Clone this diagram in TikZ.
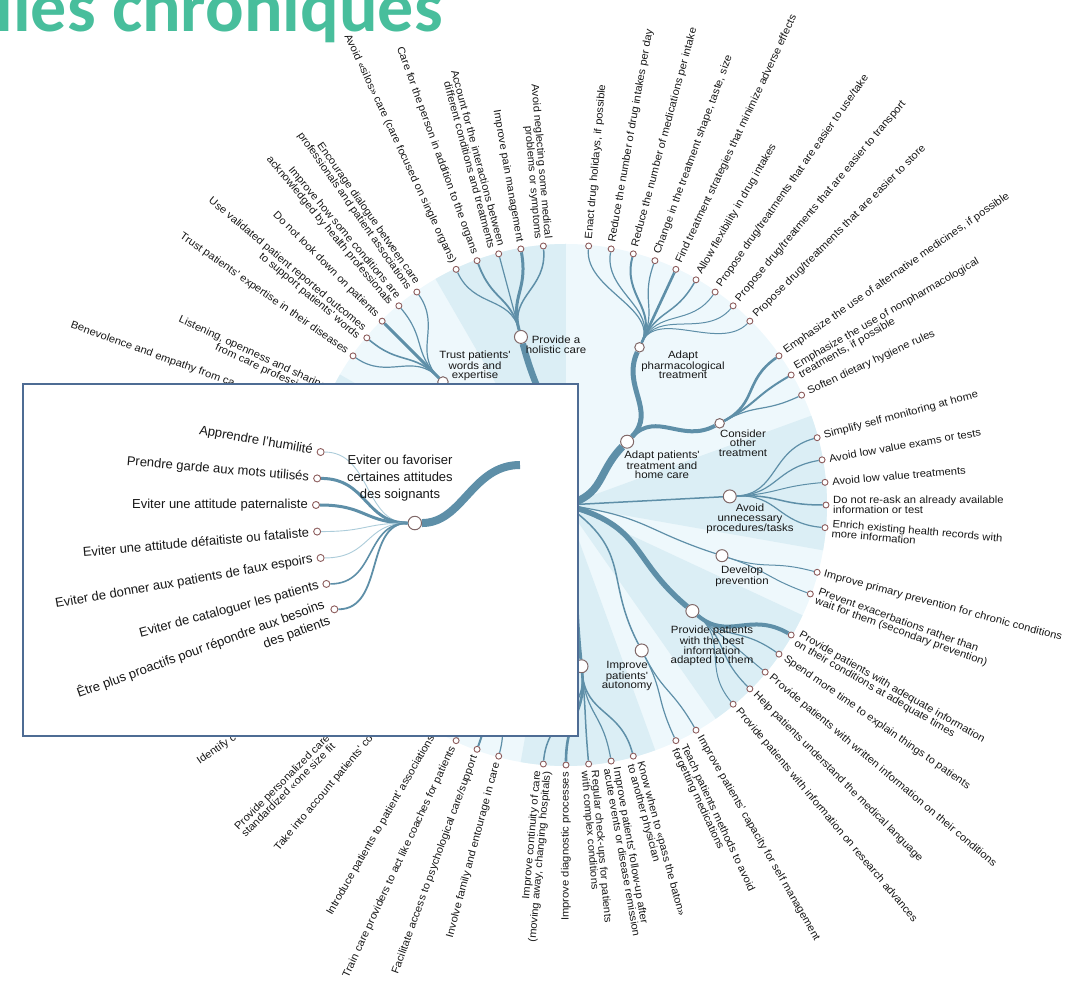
\documentclass[tikz,border=0pt]{standalone}
\usepackage{fontspec}
\setmainfont{Liberation Sans}
\newfontfamily\titlefont{Carlito}
\newfontfamily\leaffont{Liberation Sans}[FakeStretch=1.07]
\newfontfamily\hubfont{Liberation Sans}[FakeStretch=1.09]
\definecolor{branch}{RGB}{94,143,168}
\definecolor{palebranch}{RGB}{172,204,218}
\definecolor{diskA}{RGB}{238,248,252}
\definecolor{diskB}{RGB}{219,238,245}
\definecolor{leafline}{RGB}{140,92,92}
\definecolor{hubline}{RGB}{128,104,104}
\definecolor{frame}{RGB}{78,108,148}
\definecolor{titlegreen}{RGB}{72,190,156}
\definecolor{ink}{RGB}{24,24,24}
\tikzset{
  link/.style={draw=branch, line cap=butt},
  leaf/.style={circle, draw=leafline, fill=white, line width=0.9pt, minimum size=6pt, inner sep=0pt},
  hub/.style={circle, draw=hubline, fill=white, line width=1pt, minimum size=13pt, inner sep=0pt},
  smallhub/.style={hub, minimum size=9.5pt},
  leaftext/.style={font=\leaffont\fontsize{10.5}{10}\selectfont, text=ink, inner sep=0pt},
  hubtext/.style={font=\hubfont\fontsize{10.5}{9.6}\selectfont, text=ink, align=center, inner sep=0pt},
  zoomtext/.style={font=\fontsize{13}{17}\selectfont, text=ink, inner sep=0pt},
}
\begin{document}
\begin{tikzpicture}[x=1pt,y=1pt]
  \useasboundingbox (-566,-490) rectangle (510,505);
  \node[anchor=base east, inner sep=0pt, text=titlegreen, font=\titlefont\bfseries\fontsize{72}{72}\selectfont] (title) at (-123,473) {lies chroniques};

  \fill[diskA] (0,0) circle[radius=261];
  \foreach \s/\e in {90/120,-10/20,-55/-25,-100/-70,-140/-125,150/165}
    \fill[diskB] (0,0) -- (\s:261) arc[start angle=\s, end angle=\e, radius=261] -- cycle;

  \coordinate (root) at (0,0);
  \coordinate (famB) at (-112.5:165);
  \node[hub] (adapt) at (46:88) {};
  \node[smallhub] (pharm) at (65:174) {};
  \node[smallhub] (other) at (28:174) {};
  \node[hub] (holi) at (105:174) {};
  \node[smallhub, minimum size=10.5pt] (trust) at (135:174) {};
  \node[hub] (avoid) at (3:164) {};
  \node[hub, minimum size=12pt] (prev) at (-18:164) {};
  \node[hub] (info) at (-40:165) {};
  \node[hub] (auto) at (-62.5:164) {};
  \node[hub] (follow) at (-84.5:162) {};
  \foreach \a in {95,100,...,115,125,130,...,145,45,50,...,85,25,30,35,-5,0,...,15,-20,-15,-50,-45,...,-30,-65,-60,-95,-90,...,-75,-120,-115,...,-105}
    \node[leaf] (L\a) at (\a:260) {};

  \draw[link, line width=7.5] (root) .. controls (15:40) and (46:44) .. (adapt);
  \draw[link, line width=5] (adapt) .. controls (46:131) and (65:131) .. (pharm);
  \draw[link, line width=4] (adapt) .. controls (46:131) and (28:131) .. (other);
  \draw[link, line width=6.5] (root) .. controls (90:87) and (105:87) .. (holi);
  \draw[link, line width=4] (root) .. controls (150:87) and (135:87) .. (trust);
  \draw[link, line width=1.5] (root) .. controls (3:82) and (3:82) .. (avoid);
  \draw[link, line width=1.2] (root) .. controls (-8:82) and (-18:82) .. (prev);
  \draw[link, line width=5.5] (root) .. controls (-15:82) and (-40:82) .. (info);
  \draw[link, line width=1.5] (root) .. controls (-35:82) and (-62.5:82) .. (auto);
  \draw[link, line width=3] (root) .. controls (-80:81) and (-84.5:81) .. (follow);

  \foreach \a/\w in {95/1.5,100/3,105/1.2,110/1.8,115/1.2}
    \draw[link, line width=\w] (holi) .. controls (105:217) and (\a:217) .. (L\a);
  \foreach \a/\w in {125/1.2,130/1.2,135/3,140/1.6,145/1.2}
    \draw[link, line width=\w] (trust) .. controls (135:217) and (\a:217) .. (L\a);
  \foreach \a/\w in {85/1.2,80/1.2,75/2,70/1.2,65/2.6,60/1.5,55/1,50/1,45/1}
    \draw[link, line width=\w] (pharm) .. controls (65:217) and (\a:217) .. (L\a);
  \foreach \a/\w in {35/2.6,30/2,25/1.2}
    \draw[link, line width=\w] (other) .. controls (28:217) and (\a:217) .. (L\a);
  \foreach \a/\w in {15/1.2,10/1.2,5/1,0/1.5,-5/1.2}
    \draw[link, line width=\w] (avoid) .. controls (3:212) and (\a:212) .. (L\a);
  \foreach \a/\w in {-15/1,-20/1}
    \draw[link, line width=\w] (prev) .. controls (-18:212) and (\a:212) .. (L\a);
  \foreach \a/\w in {-30/4,-35/1.2,-40/1,-45/1.2,-50/1}
    \draw[link, line width=\w] (info) .. controls (-40:212) and (\a:212) .. (L\a);
  \foreach \a/\w in {-60/1.2,-65/1.2}
    \draw[link, line width=\w] (auto) .. controls (-62.5:212) and (\a:212) .. (L\a);
  \foreach \a/\w in {-75/1.5,-80/1.2,-85/1.5,-90/2.6,-95/1.5}
    \draw[link, line width=\w] (follow) .. controls (-84.5:211) and (\a:211) .. (L\a);
  \foreach \a/\w in {-105/1.2,-110/2,-115/1,-120/1}
    \draw[link, line width=\w] (famB) .. controls (-112.5:212) and (\a:212) .. (L\a);

  \node[hubtext] (holiT) at (-10,160) {Provide a\\holistic care};
  \node[hubtext] (trustT) at (-91,139) {Trust patients'\\words and\\expertise};
  \node[hubtext] (pharmT) at (117,140) {Adapt\\pharmacological\\treatment};
  \node[hubtext] (adaptT) at (96,40) {Adapt patients'\\treatment and\\home care};
  \node[hubtext] (otherT) at (177,62) {Consider\\other\\treatment};
  \node[hubtext] (avoidT) at (184,-14) {Avoid\\unnecessary\\procedures/tasks};
  \node[hubtext] (prevT) at (176,-71) {Develop\\prevention};
  \node[hubtext] (infoT) at (146,-141) {Provide patients\\with the best\\information\\adapted to them};
  \node[hubtext] (autoT) at (61,-171) {Improve\\patients'\\autonomy};

  \foreach \a/\t in {85/{Enact drug holidays, if possible},
      80/{Reduce the number of drug intakes per day},
      75/{Reduce the number of medications per intake},
      70/{Change in the treatment shape, taste, size},
      65/{Find treatment strategies that minimize adverse effects},
      60/{Allow flexibility in drug intakes},
      55/{Propose drug/treatments that are easier to use/take},
      50/{Propose drug/treatments that are easier to transport},
      45/{Propose drug/treatments that are easier to store},
      35/{Emphasize the use of alternative medicines, if possible},
      30/{Emphasize the use of nonpharmacological\\treatments, if possible},
      25/{Soften dietary hygiene rules},
      15/{Simplify self monitoring at home},
      10/{Avoid low value exams or tests},
      5/{Avoid low value treatments},
      0/{Do not re-ask an already available\\information or test},
      -5/{Enrich existing health records with\\more information},
      -15/{Improve primary prevention for chronic conditions},
      -20/{Prevent exacerbations rather than\\wait for them (secondary prevention)},
      -30/{Provide patients with adequate information\\on their conditions at adequate times},
      -35/{Spend more time to explain things to patients},
      -40/{Provide patients with written information on their conditions},
      -45/{Help patients understand the medical language},
      -50/{Provide patients with information on research advances},
      -60/{Improve patients' capacity for self management},
      -65/{Teach patients methods to avoid\\forgetting medications},
      -75/{Know when to «pass the baton»\\to another physician},
      -80/{Improve patients' follow-up after\\acute events or disease remission},
      -85/{Regular check-ups for patients\\with complex conditions}}
    \node[leaftext, rotate=\a, anchor=west, align=left] (T\a) at (\a:267) {\t};
  \foreach \a/\t in {95/{Avoid neglecting some medical\\problems or symptoms},
      100/{Improve pain management},
      105/{Account for the interactions between\\different conditions and treatments},
      110/{Care for the person in addition to the organs},
      115/{Avoid «silos» care (care focused on single organs)},
      125/{Encourage dialogue between care\\professionals and patient associations},
      130/{Improve how some conditions are\\acknowledged by health professionals},
      135/{Do not look down on patients},
      140/{Use validated patient reported outcomes\\to support patients' words},
      145/{Trust patients' expertise in their diseases},
      155/{Listening, openness and sharing\\from care professio\phantom{nals}},
      -90/{Improve diagnostic processes},
      -95/{Improve continuity of care\\(moving away, changing hospitals)},
      -105/{Involve family and entourage in care},
      -110/{Facilitate access to psychological care/support},
      -115/{Train care providers to act like coaches for patients},
      -120/{Introduce patients to patient' associations}}
    \node[leaftext, rotate=\a+180, anchor=east, align=right] (T\a) at (\a:267) {\t};
  \foreach \a/\r/\t in {160/527/{Benevolence and empathy from ca},
      -130/450/{Take into account patients' co},
      -135/462/{Provide personalized care\\standardized «one size fit},
      -145/449/{Identify co}}
    \node[leaftext, rotate=\a+180, anchor=west, align=left] (T\a) at (\a:\r) {\t};

  \node[draw=frame, fill=white, line width=1.8pt, minimum width=555pt, minimum height=352pt, inner sep=0pt, anchor=north west] (zoombox) at (-544,122) {};
  \begin{scope}[shift={(55,0)}]
    \node[hub, minimum size=13.5pt] (ev) at (185:207) {};
    \coordinate (evend) at (-101,40);
    \foreach \a [count=\i] in {170,175,...,200}
      \node[leaf, minimum size=7pt] (E\i) at (\a:305) {};
    \draw[link, line width=8] (ev) .. controls +(48,0) and +(-48,0) .. (evend);
    \foreach \i/\w/\c in {1/0.9/palebranch,2/3/branch,3/3/branch,4/0.9/palebranch,5/0.9/palebranch,6/1.6/branch,7/1.8/branch}
      \draw[draw=\c, line width=\w] (ev) .. controls +(-50,0) and +(50,0) .. (E\i);
    \node[zoomtext, align=center] (evT) at (-221,27) {Eviter ou favoriser\\certaines attitudes\\des soignants};
    \foreach \a/\t in {170/{Apprendre l'humilité},
        175/{Prendre garde aux mots utilisés},
        180/{Eviter une attitude paternaliste},
        185/{Eviter une attitude défaitiste ou fataliste},
        190/{Eviter de donner aux patients de faux espoirs},
        195/{Eviter de cataloguer les patients},
        200/{Être plus proactifs pour répondre aux besoins\\des patients}}
      \node[zoomtext, rotate=\a+180, anchor=east, align=right] (Z\a) at (\a:313) {\t};
  \end{scope}
\end{tikzpicture}
\end{document}
